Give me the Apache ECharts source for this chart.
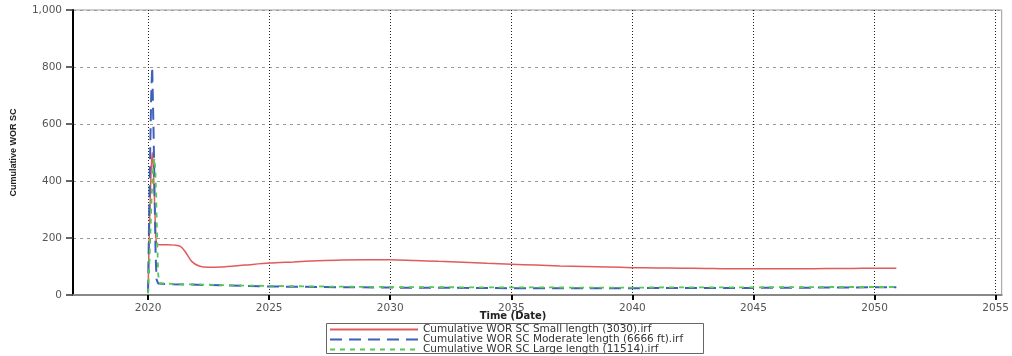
<!DOCTYPE html>
<html><head><meta charset="utf-8">
<script src="https://cdn.jsdelivr.net/npm/echarts@6/dist/echarts.min.js"></script>
<style>html,body{margin:0;padding:0;background:#fff}#c{width:1012px;height:356px}</style>
</head><body><div id="c"></div>
<script>
const xTicks = [2020, 2025, 2030, 2035, 2040, 2045, 2050, 2055];
const yTicks = [0, 200, 400, 600, 800, 1000];
const seriesNames = [
  'Cumulative WOR SC Small length (3030).irf',
  'Cumulative WOR SC Moderate length (6666 ft).irf',
  'Cumulative WOR SC Large length (11514).irf'
];
const xAxisTitle = 'Time (Date)';
const smallLen = [[2020.0,15],[2020.06,250],[2020.12,420],[2020.17,500],[2020.22,440],[2020.28,300],[2020.34,185],[2020.45,176],[2020.8,176],[2021.1,175],[2021.35,170],[2021.55,150],[2021.8,118],[2022.1,102],[2022.5,97],[2023,98],[2024,105],[2025,112],[2026,116],[2027,120],[2028,123],[2029,124],[2030,124],[2031,121],[2032,118],[2033,115],[2034,111],[2035,108],[2036,105],[2037,102],[2038,100],[2039,98],[2040,96],[2041,95],[2042,94],[2043,93],[2044,92],[2045,92],[2046,92],[2047,92],[2048,93],[2049,93],[2050,94],[2050.9,94]];
const moderateLen = [[2020.0,10],[2020.04,250],[2020.09,520],[2020.13,700],[2020.17,800],[2020.19,720],[2020.23,560],[2020.27,350],[2020.31,150],[2020.35,55],[2020.42,40],[2020.7,39],[2021,38],[2022,36],[2023,34],[2024,32],[2025,30],[2027,28],[2030,26],[2033,25],[2035,24],[2038,24],[2040,24],[2043,25],[2045,25],[2048,26],[2050,27],[2050.9,27]];
const largeLen = [[2020.0,5],[2020.07,150],[2020.14,330],[2020.2,430],[2020.26,480],[2020.3,440],[2020.34,330],[2020.38,180],[2020.42,70],[2020.48,42],[2020.7,40],[2021,39],[2022,37],[2023,35],[2024,33],[2025,32],[2027,30],[2030,28],[2033,27],[2035,27],[2038,26],[2040,26],[2043,27],[2045,27],[2048,28],[2050,28],[2050.9,28]];

const chart = echarts.init(document.getElementById('c'));
const lbl = {fontFamily:'DejaVu Sans', fontSize:10.5, color:'#555'};
const legendTops = [324, 334, 344];
const legends = seriesNames.map((n, i) => ({
  orient:'horizontal', left:329, top:legendTops[i], padding:0,
  data:[n], itemWidth:88, itemHeight:9, itemGap:0,
  itemStyle:{opacity:0},
  textStyle:{fontFamily:'DejaVu Sans', fontSize:10.5, lineHeight:10, color:'#333'},
  selectedMode:false
}));
chart.setOption({
  animation:false,
  grid:{left:73, right:8, top:10, bottom:61, show:true, borderColor:'#999', borderWidth:1},
  legend:legends,
  graphic:[
    {type:'rect', shape:{x:326.5, y:323.5, width:377, height:30},
     style:{fill:'none', stroke:'#666', lineWidth:1}, silent:true, z:-1},
    {type:'text', x:513, y:316, silent:true,
     style:{text:xAxisTitle, align:'center', verticalAlign:'middle',
            font:'bold 10px "DejaVu Sans"', fill:'#222'}}
  ],
  xAxis:{
    type:'value', min:2016.9, max:2055.25,
    axisLine:{show:true, onZero:false, lineStyle:{color:'#888', width:2}},
    axisTick:{show:true, customValues:xTicks, length:5, lineStyle:{color:'#000', width:2}},
    axisLabel:{customValues:xTicks, margin:8, ...lbl, formatter:v=>String(v)},
    splitLine:{show:true, lineStyle:{color:'#222', type:[1,2], width:1}}
  },
  yAxis:{
    type:'value', min:0, max:1000, interval:200,
    name:'Cumulative WOR SC', nameLocation:'middle', nameGap:55, nameRotate:90,
    nameTextStyle:{fontFamily:'Liberation Sans', fontSize:9, fontWeight:'bold', color:'#222'},
    axisLine:{show:true, lineStyle:{color:'#000', width:2}},
    axisTick:{show:true, length:7, lineStyle:{color:'#333', width:1.5}},
    axisLabel:{margin:11, ...lbl, formatter:v=>v.toLocaleString('en-US')},
    splitLine:{show:true, lineStyle:{color:'#999', type:[3,4], width:1}}
  },
  series:[
    {name:seriesNames[0], type:'line', data:smallLen, showSymbol:false, symbol:'none', smooth:0.3,
     lineStyle:{color:'#e05c5c', width:1.5}, itemStyle:{color:'#e05c5c'}, z:2},
    {name:seriesNames[1], type:'line', data:moderateLen, showSymbol:false, symbol:'none',
     lineStyle:{color:'#3f5fb8', width:2, type:[12,7]}, itemStyle:{color:'#3f5fb8'}, z:3},
    {name:seriesNames[2], type:'line', data:largeLen, showSymbol:false, symbol:'none',
     lineStyle:{color:'#55c855', width:1.8, type:[5,5]}, itemStyle:{color:'#55c855'}, z:4}
  ]
});
</script></body></html>
